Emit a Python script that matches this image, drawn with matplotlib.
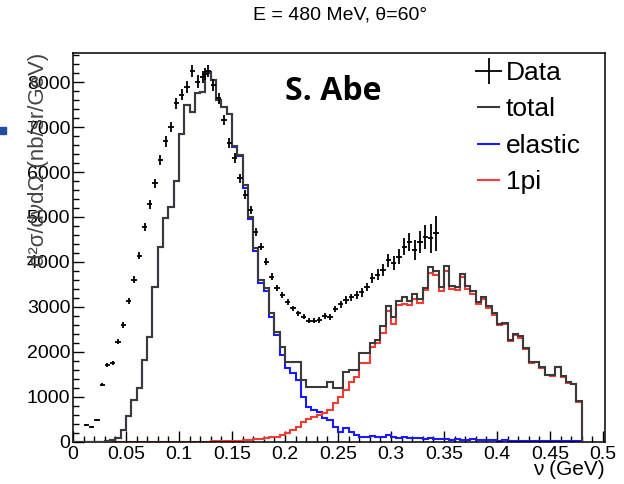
import numpy as np
import matplotlib.pyplot as plt
from matplotlib.lines import Line2D
from matplotlib.patches import Rectangle
from matplotlib.ticker import MultipleLocator

plt.rcParams['font.family'] = ['Liberation Sans', 'DejaVu Sans']

# histogram contents, 0.005 GeV bins starting at nu = 0
bin_width = 0.005
total = [0, 0, 0, 0, 0, 0, 20, 30, 80, 250,
         570, 920, 1190, 1820, 2330, 3450, 4340, 4980, 5230, 5790,
         6850, 7500, 7345, 7755, 7790, 8220, 8050, 7600, 7450, 7300,
         6570, 6380, 5700, 5000, 4300, 3600, 3410, 2855, 2445, 2110,
         1780, 1760, 1760, 1370, 1220, 1210, 1220, 1215, 1330, 1185,
         1185, 1555, 1590, 1590, 1965, 1965, 2200, 2260, 2570, 3020,
         2780, 3130, 3210, 3120, 3285, 3170, 3410, 3880, 3800, 3430,
         3910, 3460, 3430, 3730, 3460, 3340, 3115, 3225, 3020, 2855,
         2620, 2640, 2270, 2390, 2340, 2075, 1760, 1780, 1665, 1490,
         1470, 1665, 1450, 1320, 1280, 900]
elastic = [0, 0, 0, 0, 0, 0, 20, 30, 80, 250,
           570, 920, 1190, 1820, 2330, 3450, 4340, 4980, 5230, 5790,
           6850, 7500, 7345, 7755, 7790, 8215, 8045, 7595, 7445, 7290,
           6560, 6365, 5650, 4950, 4250, 3540, 3340, 2780, 2370, 1925,
           1630, 1530, 1370, 1000, 775, 700, 665, 515, 480, 330,
           220, 295, 220, 145, 110, 100, 120, 95, 110, 140,
           100, 85, 95, 75, 70, 75, 60, 80, 55, 45,
           50, 40, 55, 35, 40, 45, 30, 35, 25, 30,
           20, 25, 20, 20, 15, 20, 15, 10, 15, 10,
           10, 10, 8, 8, 5, 5]
onepi = [0, 0, 0, 0, 0, 0, 0, 0, 0, 0,
         0, 0, 0, 0, 0, 0, 0, 0, 0, 0,
         0, 0, 0, 0, 0, 0, 3, 5, 5, 8,
         10, 15, 25, 35, 45, 60, 80, 90, 110, 150,
         200, 250, 330, 440, 495, 550, 590, 630, 700, 850,
         1000, 1150, 1330, 1445, 1755, 1755, 2110, 2190, 2410, 2910,
         2620, 3040, 3060, 3040, 3170, 3080, 3375, 3760, 3710, 3360,
         3800, 3400, 3380, 3670, 3400, 3290, 3070, 3180, 2980, 2820,
         2590, 2610, 2245, 2365, 2315, 2050, 1740, 1760, 1645, 1475,
         1455, 1650, 1435, 1310, 1270, 890]
nu_edges = np.arange(len(total) + 1) * bin_width

# measured points
data_nu = [0.0125, 0.0175, 0.0225, 0.0275, 0.0325, 0.0375, 0.0425, 0.0475,
           0.0525, 0.0575, 0.0625, 0.0675, 0.0725, 0.0775, 0.0825, 0.0875,
           0.0925, 0.0975, 0.1025, 0.1075, 0.1125, 0.1175, 0.1225, 0.125,
           0.1275, 0.1325, 0.1375, 0.1425, 0.1475, 0.1525, 0.1575, 0.1625,
           0.1675, 0.1725, 0.1775, 0.1825, 0.1875, 0.1925, 0.1975, 0.2025,
           0.2075, 0.2125, 0.2175, 0.2225, 0.2275, 0.2325, 0.2375, 0.2425,
           0.2475, 0.2525, 0.2575, 0.2625, 0.2675, 0.2725, 0.2775, 0.2825,
           0.2875, 0.2925, 0.2975, 0.3025, 0.3075, 0.3125, 0.3175, 0.3225,
           0.3275, 0.3325, 0.3375, 0.3425]
data_xs = [370, 330, 480, 1260, 1700, 1755, 2225, 2595,
           3130, 3600, 4140, 4785, 5280, 5750, 6270, 6680,
           7000, 7530, 7720, 7900, 8240, 8015, 8125, 8180,
           8240, 7940, 7645, 7160, 6640, 6310, 5860, 5490,
           5155, 4670, 4340, 4005, 3670, 3410, 3260, 3115,
           2965, 2855, 2780, 2690, 2690, 2705, 2795, 2780,
           2945, 3055, 3150, 3210, 3260, 3320, 3440, 3635,
           3710, 3820, 4040, 3980, 4115, 4340, 4450, 4265,
           4450, 4560, 4525, 4635]
data_err = [20, 20, 25, 35, 45, 45, 55, 60,
            70, 75, 85, 90, 95, 100, 110, 115,
            120, 125, 125, 130, 135, 135, 135, 135,
            135, 130, 125, 120, 115, 110, 105, 100,
            95, 90, 85, 80, 75, 70, 65, 65,
            60, 60, 60, 60, 60, 60, 65, 65,
            70, 75, 80, 85, 90, 95, 100, 110,
            120, 130, 145, 155, 170, 185, 200, 220,
            245, 270, 320, 390]

c_total = '#3a3a3a'
c_el = '#1a1aff'
c_pi = '#f03c32'

fig = plt.figure(figsize=(6.24, 4.84), dpi=100)
ax = fig.add_axes([0.117, 0.0878, 0.8526, 0.8027])

ax.stairs(elastic, nu_edges, baseline=0, color=c_el, lw=1.5, zorder=2)
ax.stairs(onepi, nu_edges, baseline=0, color=c_pi, lw=1.5, zorder=2.1)
ax.stairs(total, nu_edges, baseline=0, color=c_total, lw=1.5, zorder=3)
eb = ax.errorbar(data_nu, data_xs, yerr=data_err, xerr=bin_width / 2,
                 fmt='none', ecolor='black', elinewidth=1.3, capsize=0, zorder=4)

ax.set_xlim(0, 0.502)
ax.set_ylim(0, 8650)

ax.xaxis.set_major_locator(MultipleLocator(0.05))
ax.xaxis.set_minor_locator(MultipleLocator(0.01))
ax.yaxis.set_major_locator(MultipleLocator(1000))
ax.yaxis.set_minor_locator(MultipleLocator(200))
ax.set_xticks(np.arange(0, 0.501, 0.05))
ax.set_xticklabels(['0', '0.05', '0.1', '0.15', '0.2', '0.25', '0.3', '0.35',
                    '0.4', '0.45', '0.5'])
ax.tick_params(which='both', direction='in', top=False, right=False,
               labelsize=14, width=1.0)
ax.tick_params(which='major', length=8)
ax.tick_params(which='minor', length=4)
ax.tick_params(axis='x', pad=3)
ax.tick_params(axis='y', pad=2)
for s in ax.spines.values():
    s.set_linewidth(1.1)

ax.set_xlabel('ν (GeV)', fontsize=15, loc='right', labelpad=-2)
# the title sits on top of the tick numbers, as in the original ROOT canvas
ax.set_ylabel('d²σ/dνdΩ (nb/sr/GeV)', fontsize=16, loc='top', color='#444444')
ax.yaxis.set_label_coords(-0.045, 1.0)

fig.text(0.545, 0.968, 'E = 480 MeV, θ=60°', ha='center', va='center', fontsize=14)
ax.text(0.49, 0.9, 'S. Abe', transform=ax.transAxes, ha='center', va='center',
        fontsize=23, fontweight='bold', family=['Open Sans', 'DejaVu Sans'])

handles = [eb,
           Line2D([], [], color=c_total, lw=1.5),
           Line2D([], [], color=c_el, lw=1.5),
           Line2D([], [], color=c_pi, lw=1.5)]
ax.legend(handles, ['Data', 'total', 'elastic', '1pi'], loc='upper left',
          bbox_to_anchor=(0.766, 0.874), bbox_transform=fig.transFigure,
          frameon=False, fontsize=19, handlelength=0.8, handletextpad=0.25,
          labelspacing=0.47, borderpad=0, borderaxespad=0)

fig.add_artist(Rectangle((0, 1 - 134 / 484), 6 / 624, 7 / 484,
                         transform=fig.transFigure, color='#1f4fa0'))

fig.savefig('out.png', dpi=100)
